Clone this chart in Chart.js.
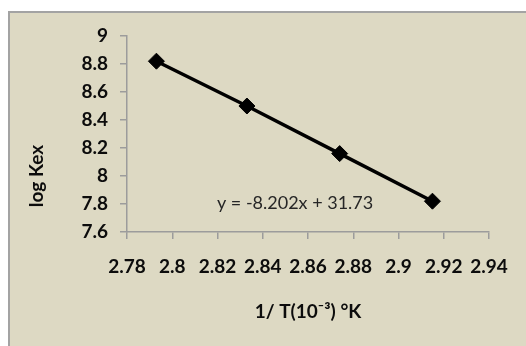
<!DOCTYPE html>
<html>
<head>
<meta charset="utf-8">
<script src="https://cdn.jsdelivr.net/npm/chart.js@4/dist/chart.umd.min.js"></script>
<style>
  html, body { margin: 0; padding: 0; background: #ffffff; overflow: hidden; }
  #frame {
    position: absolute; left: 8px; top: 11px; width: 560px; height: 380px;
    background: #ddd9c3; border-left: 2px solid #a3a3a3; border-top: 2px solid #a3a3a3;
  }
  #wrap { position: absolute; left: 0; top: 0; width: 526px; height: 346px; }
</style>
</head>
<body>
<div id="frame"></div>
<div id="wrap"><canvas id="chart" width="526" height="346"></canvas></div>
<script>
// Inverse temperature (10^-3 / K) and extraction constants
const invTemp = [2.793, 2.833, 2.874, 2.915];
const logKex = [8.82, 8.50, 8.16, 7.82];

const xTicks = [2.78, 2.80, 2.82, 2.84, 2.86, 2.88, 2.90, 2.92, 2.94];
const yTicks = [7.6, 7.8, 8.0, 8.2, 8.4, 8.6, 8.8, 9.0];

const xTitle = '1/ T(10\u207B\u00B3) \u00B0K';
const yTitle = 'log Kex';
const fitLabel = 'y = -8.202x + 31.73';

const FONT = 'Lato, "Open Sans", sans-serif';
const AXIS = '#9c9c9c';
const TEXT = '#0c0c0c';

const points = invTemp.map((x, i) => ({ x: x, y: logKex[i] }));
const fmt = v => String(Number(v.toFixed(2)));

// Rotated y-axis title and the fit equation, drawn on the canvas
const extras = {
  id: 'extras',
  afterDraw(chart) {
    const ctx = chart.ctx;
    const xs = chart.scales.x, ys = chart.scales.y;
    ctx.save();
    ctx.fillStyle = TEXT;
    ctx.font = 'bold 19px ' + FONT;
    ctx.textAlign = 'center';
    ctx.textBaseline = 'middle';
    ctx.translate(37, 176);
    ctx.rotate(-Math.PI / 2);
    ctx.fillText(yTitle, 0, 0);
    ctx.restore();

    ctx.save();
    ctx.fillStyle = '#262626';
    ctx.font = '18px ' + FONT;
    ctx.textAlign = 'center';
    ctx.textBaseline = 'middle';
    ctx.fillText(fitLabel, xs.getPixelForValue(2.8543), ys.getPixelForValue(7.807));
    ctx.restore();
  }
};

new Chart(document.getElementById('chart'), {
  type: 'scatter',
  data: {
    datasets: [{
      data: points,
      showLine: true,
      borderColor: '#000000',
      borderWidth: 3.5,
      backgroundColor: '#000000',
      pointStyle: 'rectRot',
      pointRadius: 8,
      pointBorderWidth: 1
    }]
  },
  options: {
    responsive: false,
    animation: false,
    layout: { padding: { left: 0, top: 36, right: 37, bottom: 0 } },
    plugins: { legend: { display: false }, tooltip: { enabled: false } },
    scales: {
      x: {
        type: 'linear',
        min: xTicks[0],
        max: xTicks[xTicks.length - 1],
        afterBuildTicks: s => { s.ticks = xTicks.map(v => ({ value: v })); },
        afterFit: s => { s.height = 114; },
        ticks: {
          callback: v => fmt(v),
          color: TEXT,
          font: { family: FONT, size: 19, weight: 'bold' },
          padding: 16,
          maxRotation: 0,
          autoSkip: false
        },
        grid: { drawOnChartArea: false, drawTicks: true, tickLength: 7, color: AXIS, lineWidth: 1.5 },
        border: { color: AXIS, width: 1.5 },
        title: {
          display: true,
          text: xTitle,
          color: TEXT,
          font: { family: FONT, size: 19, weight: 'bold' },
          padding: { top: 0, bottom: 23 }
        }
      },
      y: {
        type: 'linear',
        min: yTicks[0],
        max: yTicks[yTicks.length - 1],
        afterBuildTicks: s => { s.ticks = yTicks.map(v => ({ value: v })); },
        afterFit: s => { s.width = 127; },
        ticks: {
          callback: v => fmt(v),
          color: TEXT,
          font: { family: FONT, size: 19, weight: 'bold' },
          padding: 12,
          autoSkip: false
        },
        grid: { drawOnChartArea: false, drawTicks: true, tickLength: 7, color: AXIS, lineWidth: 1.5 },
        border: { color: AXIS, width: 1.5 }
      }
    }
  },
  plugins: [extras]
});
</script>
</body>
</html>
